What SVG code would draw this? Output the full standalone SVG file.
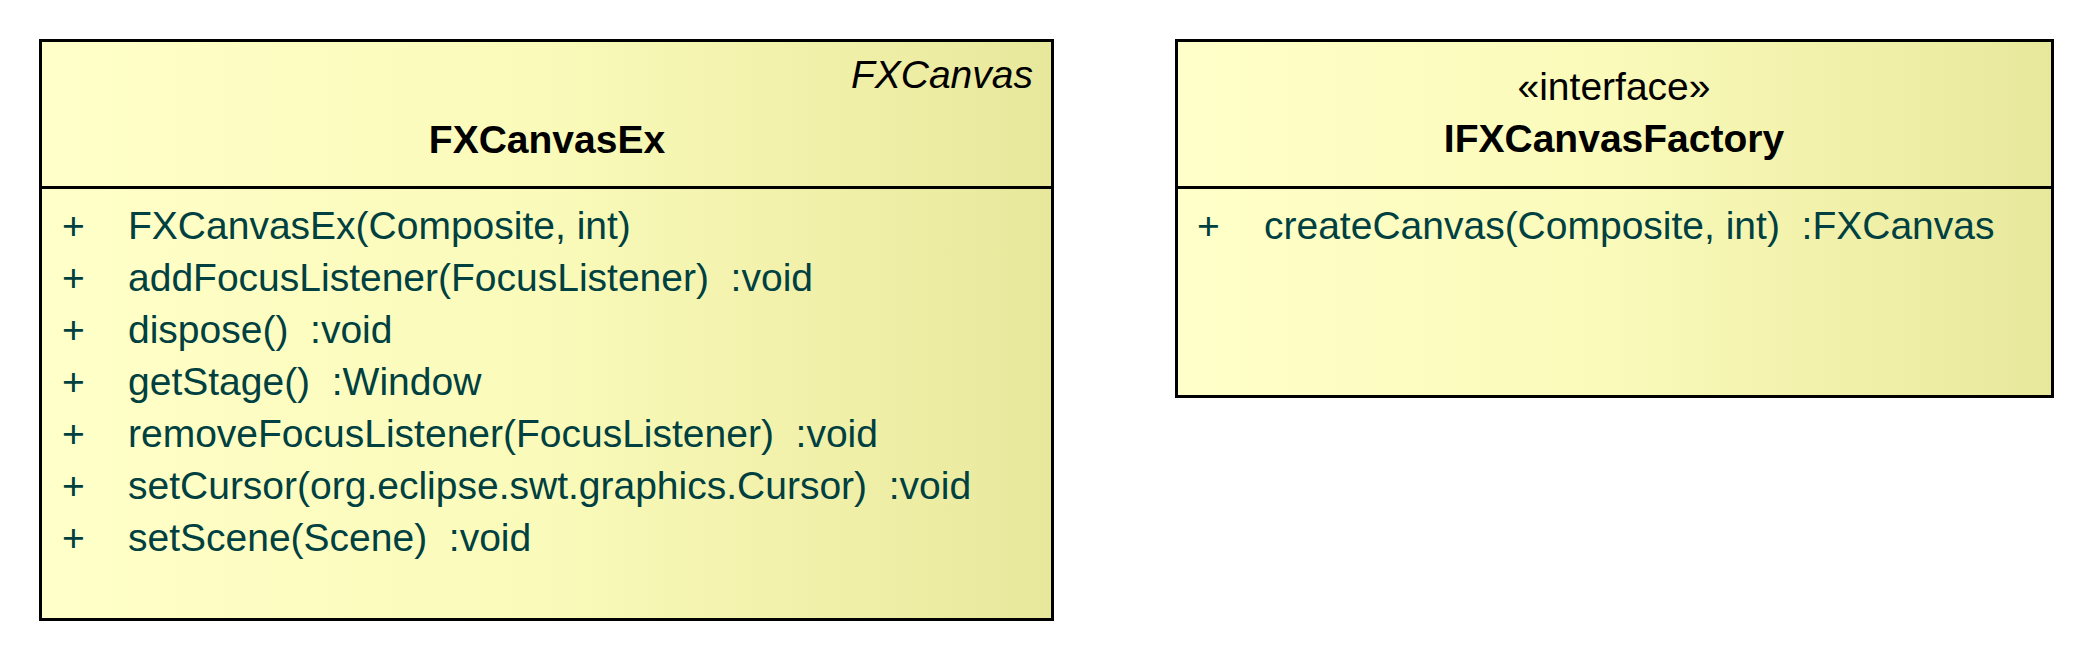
<svg xmlns="http://www.w3.org/2000/svg" width="2096" height="664" viewBox="0 0 2096 664">
<style>
.box{stroke:#000;stroke-width:3;fill:url(#g)}
.div{stroke:#000;stroke-width:3}
text{font-family:"Liberation Sans",Arial,sans-serif;font-size:39px}
.title{font-weight:bold;fill:#000;text-anchor:middle}
.stereo{fill:#000;text-anchor:middle}
.parent{fill:#000;font-style:italic;text-anchor:end}
.m{fill:#004040;white-space:pre}
</style>
<defs>
<linearGradient id="g" x1="0" y1="0" x2="1" y2="0">
<stop offset="0" stop-color="#FFFFC9"/>
<stop offset="0.5" stop-color="#FAFABA"/>
<stop offset="1" stop-color="#E8E89C"/>
</linearGradient>
</defs>
<g id="FXCanvasEx">
<rect class="box" x="40.5" y="40.5" width="1012" height="579"/>
<line class="div" x1="40.5" y1="187.5" x2="1052.5" y2="187.5"/>
<text class="parent" x="1033" y="88">FXCanvas</text>
<text class="title" x="547" y="153">FXCanvasEx</text>
<g class="m">
<text class="m" x="62" y="239">+</text><text class="m" x="128" y="239">FXCanvasEx(Composite, int)</text>
<text class="m" x="62" y="291">+</text><text class="m" x="128" y="291" xml:space="preserve">addFocusListener(FocusListener)  :void</text>
<text class="m" x="62" y="343">+</text><text class="m" x="128" y="343" xml:space="preserve">dispose()  :void</text>
<text class="m" x="62" y="395">+</text><text class="m" x="128" y="395" xml:space="preserve">getStage()  :Window</text>
<text class="m" x="62" y="447">+</text><text class="m" x="128" y="447" xml:space="preserve">removeFocusListener(FocusListener)  :void</text>
<text class="m" x="62" y="499">+</text><text class="m" x="128" y="499" xml:space="preserve">setCursor(org.eclipse.swt.graphics.Cursor)  :void</text>
<text class="m" x="62" y="551">+</text><text class="m" x="128" y="551" xml:space="preserve">setScene(Scene)  :void</text>
</g>
</g>
<g id="IFXCanvasFactory">
<rect class="box" x="1176.5" y="40.5" width="876" height="356"/>
<line class="div" x1="1176.5" y1="187.5" x2="2052.5" y2="187.5"/>
<text class="stereo" x="1614" y="100">«interface»</text>
<text class="title" x="1614" y="152">IFXCanvasFactory</text>
<text class="m" x="1197" y="239">+</text><text class="m" x="1264" y="239" xml:space="preserve">createCanvas(Composite, int)  :FXCanvas</text>
</g>
<g id="connectors"/>
</svg>
